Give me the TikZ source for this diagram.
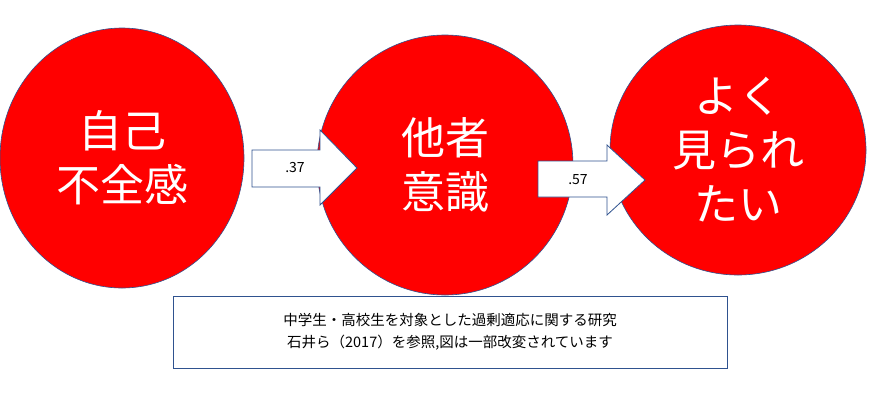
\documentclass[tikz,border=0pt]{standalone}
\usepackage{fontspec}
\setmainfont{Noto Sans CJK JP}
\usetikzlibrary{positioning,shapes.geometric}
\definecolor{edgeblue}{RGB}{47,82,143}
\tikzstyle{bigarrow} = [draw=edgeblue, fill=white, line width=0.8pt]

\begin{document}
\begin{tikzpicture}[x=1pt,y=-1pt,
bubble/.style={ellipse, draw=edgeblue, fill=red, line width=0.6pt, text=white, font=\fontsize{44}{54}\selectfont, align=center, inner sep=0pt},
numlabel/.style={font=\fontsize{14}{16}\selectfont},
notebox/.style={rectangle, draw=edgeblue, line width=0.6pt, align=center, font=\fontsize{14.5}{22}\selectfont},
]
\useasboundingbox (0,0) rectangle (880,400);
%Nodes
\node[bubble, minimum width=244pt, minimum height=260pt] (e1) at (122,158) {自己\\不全感};
\node[bubble, minimum width=256pt, minimum height=260pt] (e2) at (445,165) {他者\\意識};
\node[bubble, minimum width=256pt, minimum height=250pt] (e3) at (738,150) {よく\\見られ\\たい};

%Arrows
\draw[bigarrow] (252,150) -- (320,150) -- (320,130) -- (357,168) -- (320,205) -- (320,187) -- (252,187) -- cycle;
\draw[bigarrow] (538,161) -- (607,161) -- (607,145) -- (645,180) -- (607,215) -- (607,197) -- (538,197) -- cycle;
\node[numlabel] (r1) at (295,168) {.37};
\node[numlabel] (r2) at (578,180) {.57};

%Note
\node[notebox, minimum width=554pt, minimum height=72pt] (note) at (450,332) {中学生・高校生を対象とした過剰適応に関する研究\\石井ら（2017）を参照,図は一部改変されています};
\end{tikzpicture}
\end{document}
